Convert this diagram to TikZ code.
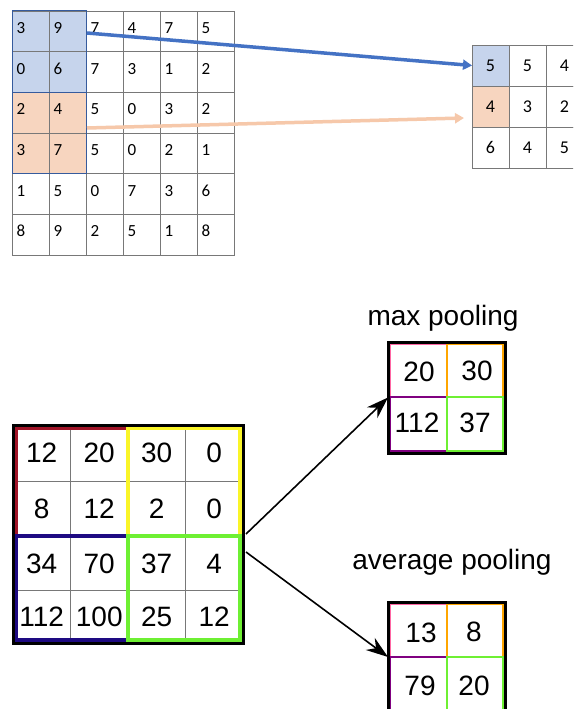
\documentclass[tikz,border=0pt]{standalone}
\usepackage{fontspec}
\setmainfont{Liberation Sans}
\newfontfamily\calfont{Carlito}
\usetikzlibrary{arrows.meta}
\definecolor{bfill}{RGB}{198,212,236}
\definecolor{ofill}{RGB}{247,213,191}
\definecolor{barrow}{RGB}{68,114,196}
\definecolor{oarrow}{RGB}{246,200,170}
\definecolor{qred}{RGB}{160,20,40}
\definecolor{qyel}{RGB}{250,245,40}
\definecolor{qblue}{RGB}{30,10,130}
\definecolor{qgreen}{RGB}{110,240,50}
\definecolor{gline}{RGB}{120,120,120}
\tikzset{
  tcell/.style={draw=gline, line width=0.8pt, minimum width=37pt, minimum height=40.7pt, inner sep=0pt, outer sep=0pt},
  tnum/.style={anchor=base west, inner sep=0pt, font=\calfont\fontsize{17}{17}\selectfont},
  rcell/.style={draw=gline, line width=0.8pt, minimum width=37pt, minimum height=41pt, inner sep=0pt, outer sep=0pt, font=\calfont\fontsize{18}{18}\selectfont},
  bnum/.style={inner sep=0pt, font=\fontsize{28}{28}\selectfont},
  ttl/.style={inner sep=0pt, font=\fontsize{28}{28}\selectfont},
  thin/.style={draw=gline, line width=0.8pt},
  quad/.style={line width=3.6pt},
  outer/.style={draw=black, line width=3pt, inner sep=0pt, outer sep=0pt},
  pcell/.style={line width=1.6pt},
}
\begin{document}
\begin{tikzpicture}[x=1pt,y=-1pt]
\useasboundingbox (0,0) rectangle (573,709);
\clip (0,0) rectangle (573,709);
\fill[white] (0,0) rectangle (573,709);
% ---------- top-left grid ----------
\fill[bfill] (12,11) rectangle (86,92.4);
\fill[ofill] (12,92.4) rectangle (86,173.8);
\foreach \r/\vals in {0/{3,9,7,4,7,5},1/{0,6,7,3,1,2},2/{2,4,5,0,3,2},3/{3,7,5,0,2,1},4/{1,5,0,7,3,6},5/{8,9,2,5,1,8}}{
  \foreach \v [count=\c from 0] in \vals {
    \node[tcell] (t-\r-\c) at ({12+18.5+37*\c},{11+20.35+40.7*\r}) {};
    \node[tnum] at ([xshift=4.5pt,yshift=-2pt]t-\r-\c.west) {\v};
  }
}
\draw[draw=barrow!80!black, line width=1pt] (t-0-0.north west) rectangle (t-1-1.south east);
\draw[draw=barrow!80!black, line width=1pt] (t-2-0.north west) rectangle (t-3-1.south east);
% ---------- top-right grid ----------
\fill[bfill] (472,45) rectangle (509,86);
\fill[ofill] (472,86) rectangle (509,127);
\foreach \r/\vals in {0/{5,5,4},1/{4,3,2},2/{6,4,5}}{
  \foreach \v [count=\c from 0] in \vals {
    \node[rcell] (r-\r-\c) at ({472+18.5+37*\c},{45+20.5+41*\r}) {\v};
  }
}
% ---------- top arrows ----------
\coordinate (ba) at (87,33);
\coordinate (oa) at (87,128);
\coordinate (ob) at (464,118);
\draw[barrow, line width=3.5pt, -{Triangle[length=9pt,width=10pt]}] (ba) -- (r-0-0.west);
\draw[oarrow, line width=3.5pt, -{Triangle[length=9pt,width=10pt]}] (oa) -- (ob);
% ---------- bottom big grid ----------
\node[minimum width=230pt, minimum height=218pt, inner sep=0pt, outer sep=0pt] (big) at (128,534) {};
\foreach \x in {70.5,185.5} \draw[thin] (\x,425) -- (\x,643);
\foreach \y in {481,590} \draw[thin] (13,\y) -- (243,\y);
\draw[quad, qred] (16,428) rectangle (128,536);
\draw[quad, qyel] (128,428) rectangle (240,536);
\draw[quad, qblue] (16,536) rectangle (128,640);
\draw[quad, qgreen] (128,536) rectangle (240,640);
\draw[outer] (big.north west) rectangle (big.south east);
\foreach \r/\vals in {0/{12,20,30,0},1/{8,12,2,0},2/{34,70,37,4},3/{112,100,25,12}}{
  \foreach \v [count=\c from 0] in \vals {
    \node[bnum] (b-\r-\c) at ({13+28.75+57.5*\c},{(\r<2 ? 425+28+56*\r : 537+26.5+53*(\r-2))}) {\v};
  }
}
% ---------- max pooling ----------
\node[ttl] (tmax) at (443,318) {max pooling};
\node[minimum width=117pt, minimum height=111pt, inner sep=0pt, outer sep=0pt] (mx) at (446.5,397.5) {};
\draw[pcell, red!60!magenta!60] (390,344) rectangle (447,397);
\draw[pcell, orange!70!yellow] (447,344) rectangle (503,397);
\draw[pcell, violet] (390,397) rectangle (447,451);
\draw[pcell, qgreen] (447,397) rectangle (503,451);
\draw[outer] (mx.north west) rectangle (mx.south east);
\node[bnum] (m00) at (419,372) {20};
\node[bnum] (m01) at (477,371) {30};
\node[bnum] (m10) at (417,423) {112};
\node[bnum] (m11) at (475,423) {37};
% ---------- average pooling ----------
\node[ttl] (tavg) at (452,562) {average pooling};
\node[minimum width=117pt, minimum height=110pt, inner sep=0pt, outer sep=0pt] (av) at (446.5,657) {};
\draw[pcell, red!60!magenta!60] (390,604) rectangle (447,657);
\draw[pcell, orange!70!yellow] (447,604) rectangle (503,657);
\draw[pcell, violet] (390,657) rectangle (447,710);
\draw[pcell, qgreen] (447,657) rectangle (503,710);
\draw[outer] (av.north west) rectangle (av.south east);
\node[bnum] (a00) at (421,633) {13};
\node[bnum] (a01) at (474,632) {8};
\node[bnum] (a10) at (420,686) {79};
\node[bnum] (a11) at (474,686) {20};
% ---------- bottom arrows ----------
\draw[line width=1.6pt, -{Stealth[length=22pt,width=15pt]}] ([xshift=3pt]big.east) -- (mx.west);
\draw[line width=1.6pt, -{Stealth[length=22pt,width=15pt]}] ([xshift=3pt,yshift=-18pt]big.east) -- (av.west);
\end{tikzpicture}
\end{document}
